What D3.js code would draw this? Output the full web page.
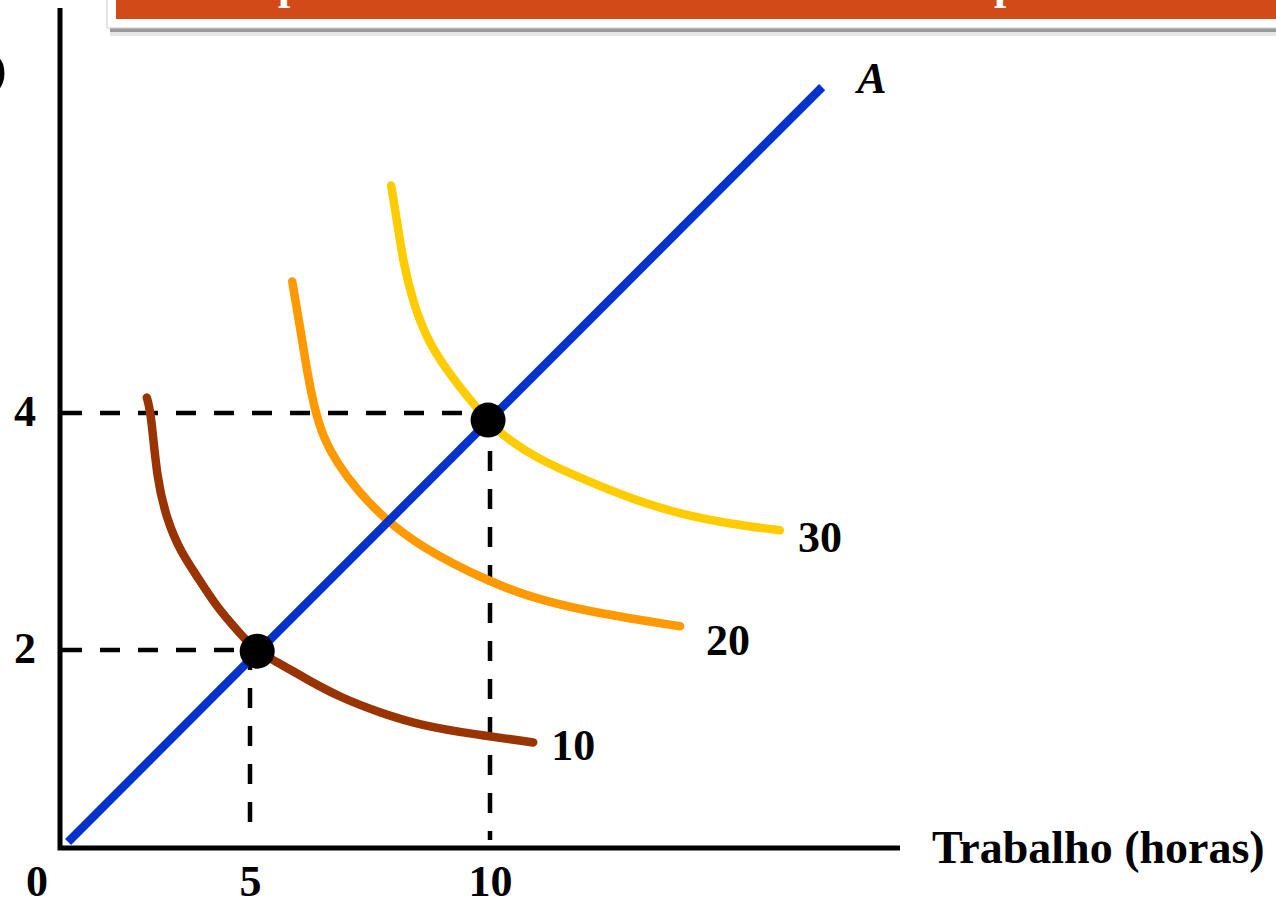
<!DOCTYPE html>
<html>
<head>
<meta charset="utf-8">
<script src="https://cdn.jsdelivr.net/npm/d3@7"></script>
<style>
  html, body { margin: 0; padding: 0; background: #ffffff; overflow: hidden; }
  svg { display: block; }
  text { font-family: "Liberation Serif", "DejaVu Serif", serif; }
</style>
</head>
<body>
<svg id="chart" width="1276" height="898"></svg>
<script>
// ---------- data ----------
const xTickValues = [5, 10];
const yTickValues = [2, 4];
const originLabel = "0";
const xAxisTitle = "Trabalho (horas)";
const lineALabel = "A";

// line A (straight line through the optimum points)
const lineA = [{x: 1.21, y: 0.38}, {x: 16.92, y: 6.75}];

// indifference curves
const curveLabels = ["10", "20", "30"];
const curve10 = [
  {x: 2.85, y: 4.13}, {x: 2.94, y: 4.00}, {x: 3.06, y: 3.44}, {x: 3.27, y: 3.10},
  {x: 3.54, y: 2.84}, {x: 3.90, y: 2.62}, {x: 4.31, y: 2.36}, {x: 4.79, y: 2.14},
  {x: 5.15, y: 1.98}, {x: 5.48, y: 1.92}, {x: 6.19, y: 1.75}, {x: 6.88, y: 1.60},
  {x: 7.71, y: 1.47}, {x: 8.60, y: 1.36}, {x: 9.65, y: 1.29}, {x: 10.90, y: 1.22}
];
const curve20 = [
  {x: 5.88, y: 5.11}, {x: 6.04, y: 4.73}, {x: 6.21, y: 4.30}, {x: 6.35, y: 4.03},
  {x: 6.52, y: 3.80}, {x: 6.81, y: 3.58}, {x: 7.23, y: 3.35}, {x: 7.77, y: 3.12},
  {x: 8.54, y: 2.87}, {x: 10.00, y: 2.57}, {x: 11.04, y: 2.42}, {x: 12.23, y: 2.31},
  {x: 13.96, y: 2.20}
];
const curve30 = [
  {x: 7.94, y: 5.92}, {x: 8.06, y: 5.63}, {x: 8.19, y: 5.27}, {x: 8.40, y: 4.93},
  {x: 8.69, y: 4.62}, {x: 9.10, y: 4.36}, {x: 9.58, y: 4.11}, {x: 9.96, y: 3.94},
  {x: 10.21, y: 3.83}, {x: 10.90, y: 3.63}, {x: 11.94, y: 3.44}, {x: 12.98, y: 3.27},
  {x: 14.02, y: 3.14}, {x: 15.06, y: 3.06}, {x: 16.04, y: 3.01}
];
const curveColors = ["#993300", "#ff9900", "#ffcc00"];

// optimum points
const optimumPoints = [{x: 5.15, y: 1.99}, {x: 9.96, y: 3.94}];
// reference (dashed) values
const guideX = [5, 10];
const guideY = [2, 4];

// ---------- layout ----------
const svg = d3.select("#chart");
const axisLeftX = 60, axisBottomY = 848, axisTopY = 8, axisRightX = 900;

const x = d3.scaleLinear().domain([0, 10]).range([10, 490]);
const y = d3.scaleLinear().domain([0, 4]).range([887, 413]);

// ---------- header banner (cropped) ----------
const banner = svg.append("g");
banner.append("rect").attr("x", 110).attr("y", 28).attr("width", 1170).attr("height", 4).attr("fill", "#9a9a9a");
banner.append("rect").attr("x", 110).attr("y", 32).attr("width", 1170).attr("height", 4).attr("fill", "#e6e6e6");
banner.append("rect").attr("x", 107).attr("y", -5).attr("width", 1180).attr("height", 33)
  .attr("fill", "#ffffff").attr("stroke", "#cfcfcf").attr("stroke-width", 1);
banner.append("rect").attr("x", 116).attr("y", -5).attr("width", 1170).attr("height", 24).attr("fill", "#d24a18");
banner.append("text").attr("x", 278).attr("y", -1).attr("fill", "#fff")
  .attr("font-size", 44).attr("font-weight", "bold").text("p");
banner.append("text").attr("x", 994).attr("y", -1).attr("fill", "#fff")
  .attr("font-size", 44).attr("font-weight", "bold").text("p");

// cropped y-axis title glyph at the top-left
svg.append("text").attr("x", 9).attr("y", 96).attr("text-anchor", "end")
  .attr("font-size", 117).attr("fill", "#000").text("5");

// ---------- dashed guides ----------
const guides = svg.append("g").attr("stroke", "#000").attr("stroke-width", 4.5)
  .attr("stroke-dasharray", "20,18").attr("fill", "none");
guideY.forEach((v, i) => {
  guides.append("line").attr("x1", axisLeftX + 2).attr("x2", x(guideX[i]))
    .attr("y1", y(v)).attr("y2", y(v));
});
guideX.forEach((v, i) => {
  guides.append("line").attr("x1", x(v)).attr("x2", x(v))
    .attr("y1", y(guideY[i])).attr("y2", axisBottomY - 8);
});

// ---------- axes ----------
svg.append("path")
  .attr("d", `M${axisLeftX},${axisTopY}V${axisBottomY}H${axisRightX}`)
  .attr("fill", "none").attr("stroke", "#000").attr("stroke-width", 5);

const xAxis = svg.append("g").attr("transform", `translate(0,${axisBottomY})`)
  .call(d3.axisBottom(x).tickValues(xTickValues).tickSize(0).tickPadding(0).tickFormat(d3.format("d")));
xAxis.select(".domain").remove();
xAxis.selectAll("text").attr("y", 48).attr("dy", null)
  .attr("font-size", 44).attr("font-weight", "bold")
  .attr("font-family", "Liberation Serif, serif").attr("fill", "#000");

const yAxis = svg.append("g").attr("transform", `translate(${axisLeftX},0)`)
  .call(d3.axisLeft(y).tickValues(yTickValues).tickSize(0).tickPadding(0).tickFormat(d3.format("d")));
yAxis.select(".domain").remove();
yAxis.selectAll("text").attr("x", -24).attr("dy", 12).attr("text-anchor", "end")
  .attr("font-size", 44).attr("font-weight", "bold")
  .attr("font-family", "Liberation Serif, serif").attr("fill", "#000");

svg.append("text").attr("x", 37).attr("y", 896).attr("text-anchor", "middle")
  .attr("font-size", 44).attr("font-weight", "bold").text(originLabel);

svg.append("text").attr("x", 932).attr("y", 863)
  .attr("font-size", 46).attr("font-weight", "bold").text(xAxisTitle);

// ---------- curves ----------
const lineGen = d3.line().x(d => x(d.x)).y(d => y(d.y)).curve(d3.curveBasis);
const curves = [curve10, curve20, curve30];
const labelOffsets = [[18, 18], [26, 29], [18, 22]];
curves.forEach((c, i) => {
  svg.append("path").attr("d", lineGen(c)).attr("fill", "none")
    .attr("stroke", curveColors[i]).attr("stroke-width", 8.5)
    .attr("stroke-linecap", "round").attr("stroke-linejoin", "round");
});

// line A
svg.append("path").attr("d", d3.line().x(d => x(d.x)).y(d => y(d.y))(lineA))
  .attr("fill", "none").attr("stroke", "#0033cc").attr("stroke-width", 8.5);
const aEnd = lineA[lineA.length - 1];
svg.append("text").attr("x", x(aEnd.x) + 35).attr("y", y(aEnd.y) + 6)
  .attr("font-size", 44).attr("font-weight", "bold").attr("font-style", "italic").text(lineALabel);

// curve labels
curves.forEach((c, i) => {
  const e = c[c.length - 1];
  svg.append("text").attr("x", x(e.x) + labelOffsets[i][0]).attr("y", y(e.y) + labelOffsets[i][1])
    .attr("font-size", 44).attr("font-weight", "bold").text(curveLabels[i]);
});

// optimum points
svg.selectAll("circle.opt").data(optimumPoints).enter().append("circle")
  .attr("class", "opt").attr("cx", d => x(d.x)).attr("cy", d => y(d.y))
  .attr("r", 17.5).attr("fill", "#000");
</script>
</body>
</html>
